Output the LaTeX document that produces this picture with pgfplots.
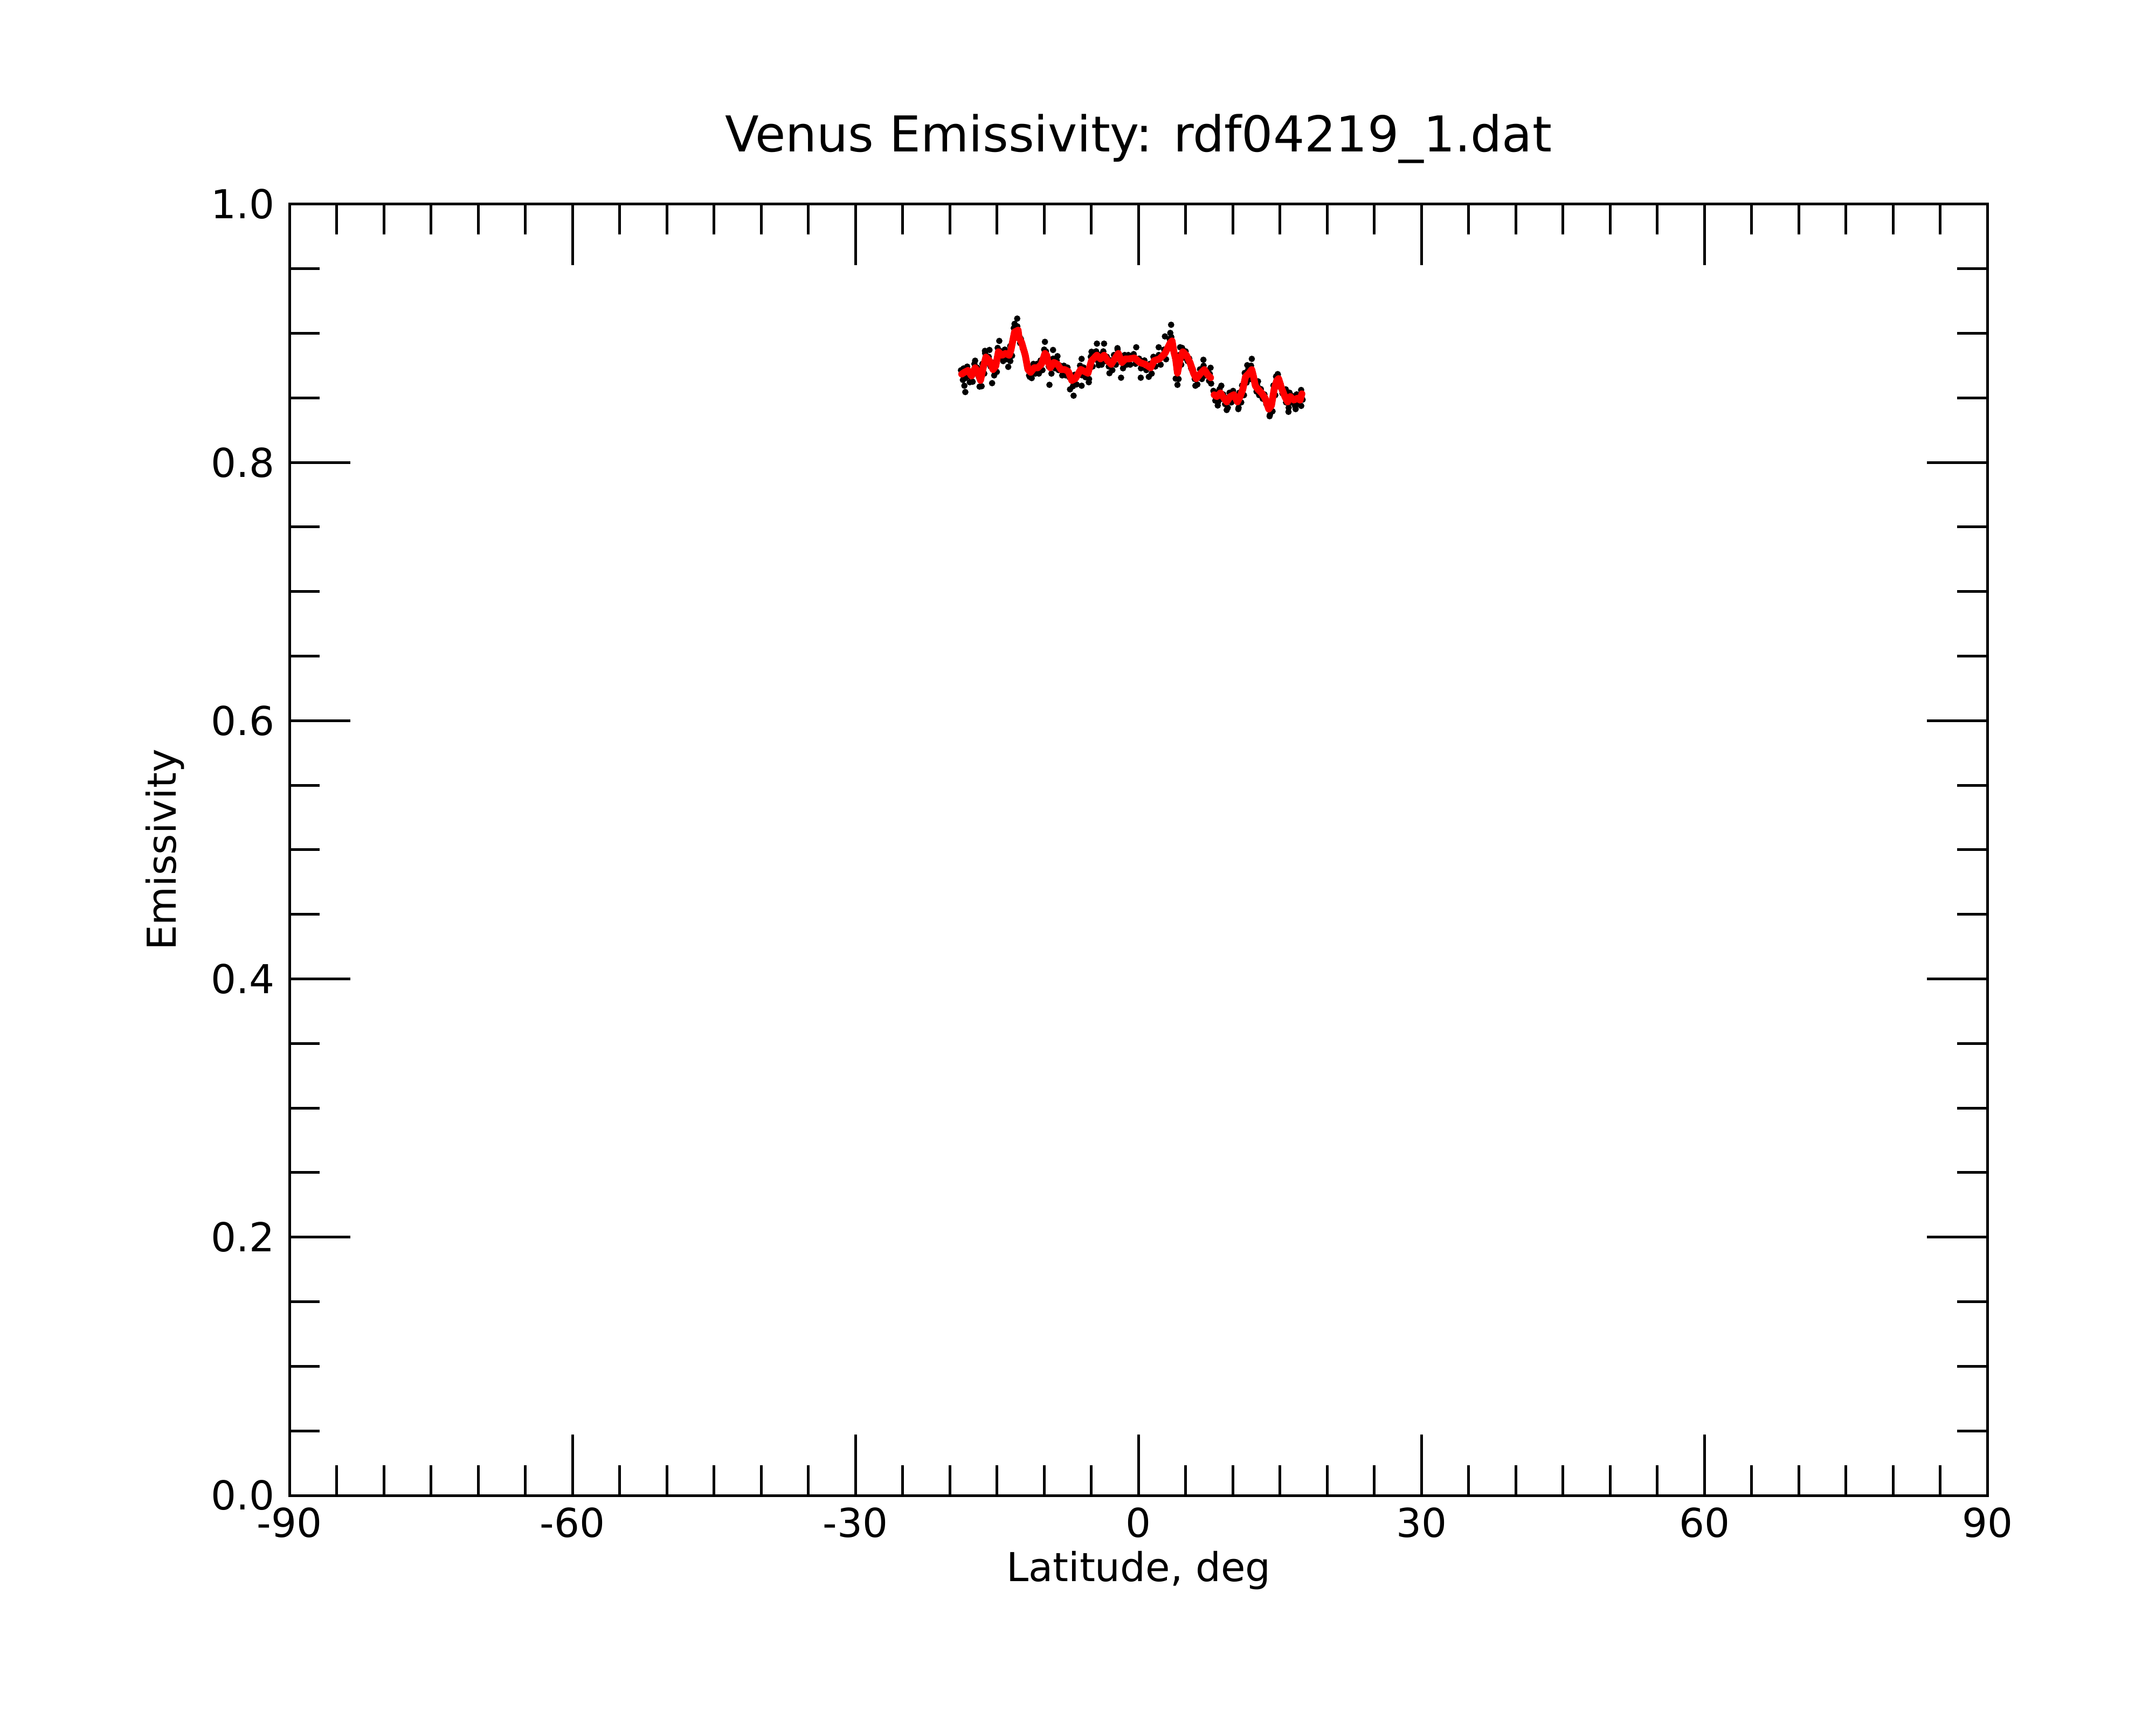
\documentclass[border=0pt]{standalone}
\usepackage{pgfplots}
\pgfplotsset{compat=1.18}
\usepackage{fontspec}
\setmainfont{DejaVu Sans}
\begin{document}
\begin{tikzpicture}
\useasboundingbox (-96.7pt,-76.5pt) rectangle ++(720pt,576pt);
\begin{axis}[
  at={(0,0)}, anchor=south west,
  scale only axis,
  width=567pt, height=431.3pt,
  xmin=-90, xmax=90, ymin=0, ymax=1,
  axis line style={line width=0.9pt},
  every tick/.style={line width=0.9pt, black},
  tick align=inside,
  xtick={-90,-60,-30,0,30,60,90},
  xticklabels={-90,-60,-30,0,30,60,90},
  minor x tick num=5,
  ytick={0,0.2,0.4,0.6,0.8,1.0},
  yticklabels={0.0,0.2,0.4,0.6,0.8,1.0},
  minor y tick num=3,
  major tick length=20.3pt,
  minor tick length=10.1pt,
  xtick pos=both, ytick pos=both,
  xticklabel pos=lower, yticklabel pos=left,
  tick label style={font=\fontsize{13.3}{16}\selectfont},
  xticklabel style={yshift=-0.6pt},
  yticklabel style={xshift=-1.5pt},
  label style={font=\fontsize{13.3}{16}\selectfont},
  xlabel={Latitude, deg},
  ylabel={Emissivity},
  xlabel style={at={(axis description cs:0.5,-0.0428)}, anchor=north, inner sep=0pt},
  ylabel style={at={(axis description cs:-0.0735,0.5)}, anchor=center, inner sep=0pt},
  every axis title shift=0pt,
  title={Venus Emissivity: rdf04219\_1.dat},
  title style={at={(axis description cs:0.5,1.0406)}, anchor=base, inner sep=0pt, font=\fontsize{16.5}{20}\selectfont},
  clip marker paths=true,
  clip mode=individual,
]
% raw measurements (black dots)
\addplot[only marks, mark=*, mark size=0.85pt, black] coordinates {
(-18.62,0.8639) (-18.82,0.8714) (-18.34,0.8653) (-18.54,0.8728) (-17.96,0.8667) (-18.16,0.8742)
(-17.58,0.8625) (-17.78,0.8700) (-17.20,0.8688) (-17.40,0.8763) (-16.92,0.8660) (-17.12,0.8735)
(-16.63,0.8590) (-16.83,0.8665) (-16.35,0.8688) (-16.55,0.8763) (-16.06,0.8771) (-16.26,0.8846)
(-15.68,0.8743) (-15.88,0.8818) (-15.30,0.8674) (-15.50,0.8749) (-15.02,0.8701) (-15.22,0.8776)
(-14.73,0.8812) (-14.93,0.8887) (-14.35,0.8785) (-14.55,0.8860) (-13.97,0.8799) (-14.17,0.8874)
(-13.59,0.8785) (-13.79,0.8860) (-13.40,0.8826) (-13.60,0.8901) (-13.02,0.8965) (-13.22,0.9040)
(-12.65,0.8979) (-12.85,0.9054) (-12.55,0.8924) (-12.75,0.8999) (-12.27,0.8882) (-12.47,0.8957)
(-11.89,0.8785) (-12.09,0.8860) (-11.60,0.8674) (-11.80,0.8749) (-11.32,0.8653) (-11.52,0.8728)
(-10.94,0.8688) (-11.14,0.8763) (-10.56,0.8688) (-10.76,0.8763) (-10.18,0.8715) (-10.38,0.8790)
(-9.80,0.8799) (-10.00,0.8874) (-9.61,0.8785) (-9.81,0.8860) (-9.51,0.8743) (-9.71,0.8818)
(-9.23,0.8688) (-9.43,0.8763) (-8.85,0.8729) (-9.05,0.8804) (-8.47,0.8715) (-8.67,0.8790)
(-8.09,0.8674) (-8.29,0.8749) (-7.71,0.8674) (-7.91,0.8749) (-7.33,0.8660) (-7.53,0.8735)
(-6.95,0.8590) (-7.15,0.8665) (-6.57,0.8604) (-6.77,0.8679) (-6.00,0.8675) (-6.20,0.8750)
(-5.62,0.8660) (-5.82,0.8735) (-5.24,0.8646) (-5.44,0.8721) (-4.86,0.8743) (-5.06,0.8818)
(-4.29,0.8785) (-4.49,0.8860) (-3.91,0.8757) (-4.11,0.8832) (-3.53,0.8785) (-3.73,0.8860)
(-3.15,0.8743) (-3.35,0.8818) (-2.77,0.8715) (-2.97,0.8790) (-2.40,0.8757) (-2.60,0.8832)
(-2.02,0.8799) (-2.22,0.8874) (-1.64,0.8729) (-1.84,0.8804) (-1.26,0.8757) (-1.46,0.8832)
(-0.88,0.8757) (-1.08,0.8832) (-0.31,0.8764) (-0.51,0.8839) (0.26,0.8729) (0.06,0.8804)
(0.83,0.8715) (0.63,0.8790) (1.40,0.8688) (1.20,0.8763) (1.78,0.8743) (1.58,0.8818)
(2.35,0.8757) (2.15,0.8832) (2.92,0.8799) (2.72,0.8874) (3.49,0.8882) (3.29,0.8957)
(3.68,0.8896) (3.48,0.8971) (3.87,0.8812) (3.67,0.8887) (4.06,0.8757) (3.86,0.8832)
(4.25,0.8646) (4.05,0.8721) (4.53,0.8757) (4.33,0.8832) (4.82,0.8812) (4.62,0.8887)
(5.20,0.8785) (5.00,0.8860) (5.58,0.8729) (5.38,0.8804) (5.96,0.8646) (5.76,0.8721)
(6.24,0.8604) (6.04,0.8679) (6.72,0.8646) (6.52,0.8721) (7.10,0.8674) (6.90,0.8749)
(7.48,0.8632) (7.28,0.8707) (7.70,0.8611) (7.56,0.8686)
(8.14,0.8479) (7.94,0.8554) (8.43,0.8465) (8.23,0.8540) (8.80,0.8493) (8.60,0.8568)
(9.18,0.8452) (8.98,0.8527) (9.47,0.8424) (9.27,0.8499) (9.85,0.8465) (9.65,0.8540)
(10.23,0.8479) (10.03,0.8554) (10.61,0.8424) (10.41,0.8499) (10.89,0.8465) (10.69,0.8540)
(11.18,0.8521) (10.98,0.8596) (11.46,0.8618) (11.26,0.8693) (11.84,0.8646) (11.64,0.8721)
(12.13,0.8674) (11.93,0.8749) (12.32,0.8618) (12.12,0.8693) (12.51,0.8549) (12.31,0.8624)
(12.79,0.8521) (12.59,0.8596) (13.17,0.8493) (12.97,0.8568) (13.55,0.8452) (13.35,0.8527)
(13.93,0.8368) (13.73,0.8443) (14.21,0.8396) (14.01,0.8471) (14.50,0.8521) (14.30,0.8596)
(14.78,0.8590) (14.58,0.8665) (14.97,0.8604) (14.77,0.8679) (15.26,0.8535) (15.06,0.8610)
(15.64,0.8465) (15.44,0.8540) (15.92,0.8424) (15.72,0.8499) (16.21,0.8465) (16.01,0.8540)
(16.59,0.8438) (16.39,0.8513) (16.97,0.8452) (16.77,0.8527) (17.25,0.8438) (17.05,0.8513)
(17.40,0.8486) (17.24,0.8561)
(-18.46,0.8594) (-18.36,0.8545) (-14.76,0.8941) (-16.28,0.8864) (-15.80,0.8871) (-17.32,0.8788)
(-15.52,0.8614) (-13.81,0.8740) (-12.86,0.9114) (-13.14,0.9073) (-9.92,0.8934) (-9.06,0.8871)
(-9.44,0.8601) (-6.88,0.8517) (-7.26,0.8566) (-6.03,0.8802) (-16.85,0.8587) (-17.89,0.8621)
(-11.53,0.8663) (-8.59,0.8823) (-7.83,0.8691)
(3.46,0.9066) (3.37,0.9003) (2.80,0.8976) (4.13,0.8601) (3.94,0.8649) (-4.41,0.8920)
(-3.65,0.8920) (-0.24,0.8892) (2.14,0.8892) (-2.23,0.8885) (-6.03,0.8594) (-5.27,0.8621)
(-4.98,0.8857) (-1.85,0.8656) (0.24,0.8656) (6.03,0.8594) (6.88,0.8795) (4.41,0.8892)
(-4.22,0.8753) (-3.08,0.8691) (1.09,0.8663)
(12.01,0.8802) (11.53,0.8753) (14.76,0.8684) (13.90,0.8358) (15.90,0.8392) (16.66,0.8413)
(9.35,0.8406) (8.78,0.8594) (7.64,0.8733) (12.67,0.8628) (10.58,0.8413) (8.40,0.8441)
(15.61,0.8566)
};
% smoothed emissivity (red), first segment
\addplot[red, line width=2.3pt, line join=round, line cap=round, mark=none] coordinates {
(-18.744,0.8684) (-18.459,0.8698) (-18.079,0.8712) (-17.700,0.8670) (-17.320,0.8733)
(-17.035,0.8705) (-16.750,0.8635) (-16.466,0.8733) (-16.181,0.8816) (-15.801,0.8788)
(-15.422,0.8719) (-15.137,0.8746) (-14.852,0.8857) (-14.473,0.8830) (-14.093,0.8844)
(-13.713,0.8830) (-13.524,0.8871) (-13.144,0.9010) (-12.765,0.9024) (-12.670,0.8969)
(-12.385,0.8927) (-12.005,0.8830) (-11.721,0.8719) (-11.436,0.8698) (-11.056,0.8733)
(-10.677,0.8733) (-10.297,0.8760) (-9.917,0.8844) (-9.728,0.8830) (-9.633,0.8788)
(-9.348,0.8733) (-8.969,0.8774) (-8.589,0.8760) (-8.209,0.8719) (-7.830,0.8719)
(-7.450,0.8705) (-7.071,0.8635) (-6.691,0.8649) (-6.121,0.8720) (-5.741,0.8705)
(-5.362,0.8691) (-4.982,0.8788) (-4.413,0.8830) (-4.033,0.8802) (-3.654,0.8830)
(-3.274,0.8788) (-2.894,0.8760) (-2.515,0.8802) (-2.135,0.8844) (-1.755,0.8774)
(-1.376,0.8802) (-0.996,0.8802) (-0.427,0.8809) (0.143,0.8774) (0.712,0.8760)
(1.282,0.8733) (1.661,0.8788) (2.231,0.8802) (2.800,0.8844) (3.370,0.8927)
(3.559,0.8941) (3.749,0.8857) (3.939,0.8802) (4.129,0.8691) (4.414,0.8802)
(4.698,0.8857) (5.078,0.8830) (5.457,0.8774) (5.837,0.8691) (6.122,0.8649)
(6.596,0.8691) (6.976,0.8719) (7.355,0.8677) (7.640,0.8656)
};
% smoothed emissivity (red), second segment
\addplot[red, line width=2.3pt, line join=round, line cap=round, mark=none] coordinates {
(8.020,0.8524) (8.305,0.8510) (8.684,0.8538) (9.064,0.8497) (9.349,0.8469)
(9.728,0.8510) (10.108,0.8524) (10.487,0.8469) (10.772,0.8510) (11.057,0.8566)
(11.342,0.8663) (11.721,0.8691) (12.006,0.8719) (12.196,0.8663) (12.386,0.8594)
(12.670,0.8566) (13.050,0.8538) (13.430,0.8497) (13.809,0.8413) (14.094,0.8441)
(14.379,0.8566) (14.663,0.8635) (14.853,0.8649) (15.138,0.8580) (15.517,0.8510)
(15.802,0.8469) (16.087,0.8510) (16.466,0.8483) (16.846,0.8497) (17.130,0.8483)
(17.320,0.8531)
};
\end{axis}
\end{tikzpicture}
\end{document}
